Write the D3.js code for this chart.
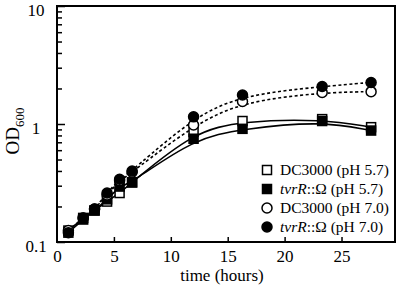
<!DOCTYPE html>
<html>
<head>
<meta charset="utf-8">
<script src="https://cdn.jsdelivr.net/npm/d3@7"></script>
<style>
  body { margin: 0; background: #fff; }
</style>
</head>
<body>
<div id="chart"></div>
<script>
// sampling times (hours)
const times = [1, 2.3, 3.3, 4.4, 5.5, 6.6, 12, 16.3, 23.3, 27.6];

// OD600 readings per strain / pH
const dc57 = [0.125, 0.16, 0.185, 0.22, 0.26, 0.32, 0.86, 1.06, 1.10, 0.94];
const tvr57 = [0.12, 0.155, 0.185, 0.23, 0.295, 0.32, 0.75, 0.91, 1.06, 0.88];
const dc70 = [0.125, 0.16, 0.19, 0.25, 0.33, 0.39, 0.98, 1.55, 1.85, 1.88];
const tvr70 = [0.12, 0.16, 0.19, 0.26, 0.34, 0.40, 1.15, 1.76, 2.08, 2.25];

const xTicks = [5, 10, 15, 20, 25];
const yMajor = [0.1, 1, 10];

const series = [
  {values: dc57, shape: "square", fill: "#fff", dash: null, label: ["DC3000 (pH 5.7)"]},
  {values: tvr57, shape: "square", fill: "#000", dash: null, label: ["tvrR", "::\u03A9 (pH 5.7)"]},
  {values: dc70, shape: "circle", fill: "#fff", dash: "3,2.5", label: ["DC3000 (pH 7.0)"]},
  {values: tvr70, shape: "circle", fill: "#000", dash: "3,2.5", label: ["tvrR", "::\u03A9 (pH 7.0)"]}
];

const FONT = "'Liberation Serif', 'Times New Roman', serif";
const width = 400;
const height = 295;
const margin = {top: 6, right: 5, bottom: 53, left: 57};

const svg = d3.select("#chart").append("svg")
  .attr("width", width)
  .attr("height", height)
  .attr("font-family", FONT)
  .style("display", "block");

const x = d3.scaleLinear()
  .domain([0, 29.7])
  .range([margin.left, width - margin.right]);

const y = d3.scaleLog()
  .domain([0.1, 10])
  .range([height - margin.bottom, margin.top]);

// minor y ticks
const yMinor = [];
[0.1, 1].forEach(d => { for (let k = 2; k <= 9; k++) yMinor.push(d * k); });

svg.append("g")
  .attr("transform", `translate(${margin.left},0)`)
  .call(d3.axisLeft(y).tickValues(yMinor).tickSize(-5).tickFormat(""))
  .call(g => g.select(".domain").remove())
  .call(g => g.selectAll("line").attr("stroke-width", 1.5));

svg.append("g")
  .attr("transform", `translate(${margin.left},0)`)
  .call(d3.axisLeft(y).tickValues(yMajor).tickSize(-8).tickFormat(d => d === 0.1 ? "0.1" : d3.format("d")(d)))
  .attr("font-family", FONT)
  .call(g => g.select(".domain").remove())
  .call(g => g.selectAll("line").attr("stroke-width", 1.5))
  .call(g => g.selectAll("text")
    .attr("font-size", 17).attr("fill", "#000")
    .attr("text-anchor", "middle").attr("x", -21).attr("dy", "0.55em"));

svg.append("g")
  .attr("transform", `translate(0,${height - margin.bottom})`)
  .call(d3.axisBottom(x).tickValues([0, ...xTicks]).tickSizeInner(-5).tickSizeOuter(0).tickPadding(8))
  .attr("font-family", FONT)
  .call(g => g.select(".domain").remove())
  .call(g => g.selectAll("line").attr("stroke-width", 1.5).filter(d => d === 0).remove())
  .call(g => g.selectAll("text").attr("font-size", 17).attr("fill", "#000"));

// frame
svg.append("rect")
  .attr("x", margin.left)
  .attr("y", margin.top)
  .attr("width", width - margin.left - margin.right)
  .attr("height", height - margin.top - margin.bottom)
  .attr("fill", "none")
  .attr("stroke", "#000")
  .attr("stroke-width", 2);

// axis titles
svg.append("text")
  .attr("x", 222)
  .attr("y", 281)
  .attr("text-anchor", "middle")
  .attr("font-size", 17)
  .text("time (hours)");

const yl = svg.append("text")
  .attr("transform", `translate(19,131) rotate(-90)`)
  .attr("text-anchor", "middle")
  .attr("font-size", 19);
yl.append("tspan").text("OD");
yl.append("tspan").attr("font-size", 13).attr("dy", 5).text("600");

// curves
const line = d3.line()
  .x((d, i) => x(times[i]))
  .y(d => y(d))
  .curve(d3.curveBasis);

series.forEach(s => {
  svg.append("path")
    .datum(s.values)
    .attr("d", line)
    .attr("fill", "none")
    .attr("stroke", "#000")
    .attr("stroke-width", 1.6)
    .attr("stroke-dasharray", s.dash);
});

// markers
function marker(g, s, cx, cy) {
  if (s.shape === "square") {
    g.append("rect")
      .attr("x", cx - 4.5).attr("y", cy - 4.5)
      .attr("width", 9).attr("height", 9)
      .attr("fill", s.fill).attr("stroke", "#000").attr("stroke-width", 1.5);
  } else {
    g.append("circle")
      .attr("cx", cx).attr("cy", cy).attr("r", 5)
      .attr("fill", s.fill).attr("stroke", "#000").attr("stroke-width", 1.5);
  }
}

series.forEach(s => {
  const g = svg.append("g");
  s.values.forEach((v, i) => marker(g, s, x(times[i]), y(v)));
});

// legend
const legend = svg.append("g");
series.forEach((s, i) => {
  const ly = 170 + i * 19;
  marker(legend, s, 267, ly);
  const t = legend.append("text")
    .attr("x", 280)
    .attr("y", ly + 5)
    .attr("font-size", 15.5);
  if (s.label.length === 2) {
    t.append("tspan").attr("font-style", "italic").text(s.label[0]);
    t.append("tspan").text(s.label[1]);
  } else {
    t.text(s.label[0]);
  }
});
</script>
</body>
</html>
